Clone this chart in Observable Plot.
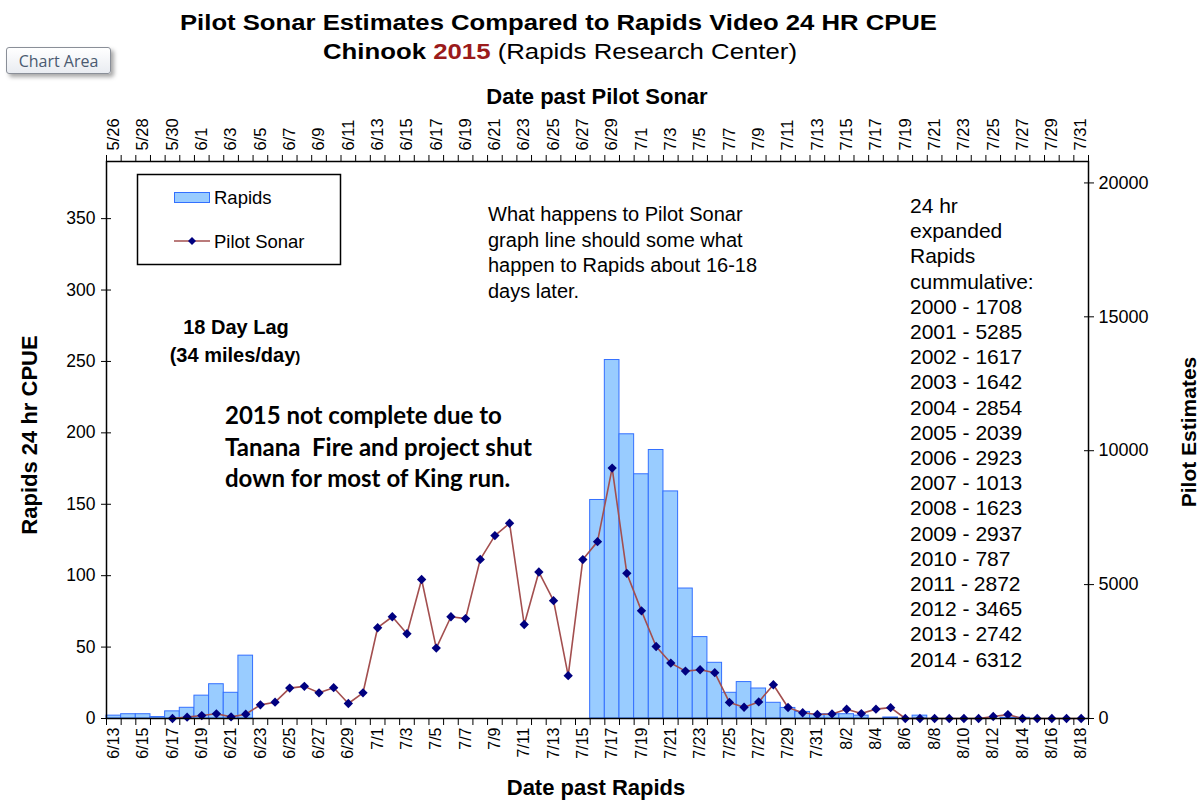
<!DOCTYPE html>
<html>
<head>
<meta charset="utf-8">
<script src="https://cdn.jsdelivr.net/npm/d3@7"></script>
<script src="https://cdn.jsdelivr.net/npm/@observablehq/plot@0.6"></script>
<style>
  html, body { margin: 0; padding: 0; background: #fff; }
  #wrap { position: relative; width: 1201px; height: 800px; overflow: hidden; }
  #chart { position: absolute; left: 0; top: 0; }
  #ov { position: absolute; left: 0; top: 0; pointer-events: none; }
  #btn {
    position: absolute; left: 6px; top: 47px; width: 105px; height: 27px;
    border: 1px solid #8a8f98; border-radius: 3px;
    background: linear-gradient(#ffffff, #e9ecf1);
    box-shadow: 3px 3px 4px rgba(0,0,0,0.35);
    font-family: "Open Sans", "Liberation Sans", sans-serif; font-size: 16px;
    color: #4a5a70; text-align: center; line-height: 26px; box-sizing: border-box;
  }
</style>
</head>
<body>
<div id="wrap">
  <div id="chart"></div>
  <div id="btn">Chart Area</div>
</div>
<script>
// Bottom category axis: date past Rapids
const rapidsDates = ["6/13","6/14","6/15","6/16","6/17","6/18","6/19","6/20","6/21","6/22","6/23","6/24","6/25","6/26","6/27","6/28","6/29","6/30",
  "7/1","7/2","7/3","7/4","7/5","7/6","7/7","7/8","7/9","7/10","7/11","7/12","7/13","7/14","7/15","7/16","7/17","7/18","7/19","7/20","7/21","7/22","7/23","7/24","7/25","7/26","7/27","7/28","7/29","7/30","7/31",
  "8/1","8/2","8/3","8/4","8/5","8/6","8/7","8/8","8/9","8/10","8/11","8/12","8/13","8/14","8/15","8/16","8/17","8/18"];
// Top category axis: date past Pilot Sonar (18 day lag)
const pilotDates = ["5/26","5/27","5/28","5/29","5/30","5/31",
  "6/1","6/2","6/3","6/4","6/5","6/6","6/7","6/8","6/9","6/10","6/11","6/12","6/13","6/14","6/15","6/16","6/17","6/18","6/19","6/20","6/21","6/22","6/23","6/24","6/25","6/26","6/27","6/28","6/29","6/30",
  "7/1","7/2","7/3","7/4","7/5","7/6","7/7","7/8","7/9","7/10","7/11","7/12","7/13","7/14","7/15","7/16","7/17","7/18","7/19","7/20","7/21","7/22","7/23","7/24","7/25","7/26","7/27","7/28","7/29","7/30","7/31"];
// Rapids 24 hr CPUE (bars, left axis)
const rapidsValues = [2,3,3,1,5,7.5,16,24,18,44,
  0,0,0,0,0,0,0,0,0,0,0,0,0,0,0,0,0,0,0,0,0,0,0,
  153,251,199,171,188,159,91,57,39,18,25.5,21,11,7.4,4.6,3,3,3,2,0,0.7,0,2,0,0,0,0,0,0.5,0.5,0,0,0,0];
// Pilot Sonar estimates (line, right axis)
const pilotValues = [null,null,null,null,0,50,110,175,60,160,510,610,1135,1200,960,1150,560,960,
  3390,3800,3165,5190,2630,3800,3730,5940,6830,7290,3510,5470,4400,1600,5935,6605,9350,5420,4020,2690,2070,1770,1820,1710,600,420,620,1260,410,215,150,
  170,345,185,350,405,0,0,0,0,0,0,75,145,0,0,0,0,0];
const leftTicks = [0,50,100,150,200,250,300,350];
const rightTicks = [0,5000,10000,15000,20000];
const notesCumulative = ["24 hr","expanded","Rapids","cummulative:","2000 - 1708","2001 - 5285","2002 - 1617","2003 - 1642","2004 - 2854","2005 - 2039","2006 - 2923","2007 - 1013","2008 - 1623","2009 - 2937","2010 - 787","2011 - 2872","2012 - 3465","2013 - 2742","2014 - 6312"];

const leftMax = 390, rightMax = 20800, k = leftMax / rightMax;
const n = rapidsDates.length;
const rapidsRows = rapidsDates.map((d, i) => ({i, d, v: rapidsValues[i]})).filter(r => r.v > 0);
const pilotRows = pilotDates.map((d, i) => ({i, d, v: pilotValues[i]})).filter(r => r.v != null);
const boundaries = d3.range(0, n + 1);
const labelPos = d3.range(0, n, 2).map(i => i + 0.5);

const font = "Liberation Sans, Arial, sans-serif";
const plot = Plot.plot({
  width: 1201, height: 800,
  marginLeft: 106, marginRight: 113, marginTop: 161, marginBottom: 82,
  style: {fontFamily: font, fontSize: "16px", color: "#000", background: "transparent"},
  x: {type: "linear", domain: [0, n]},
  y: {domain: [0, leftMax]},
  marks: [
    Plot.rect(rapidsRows, {x1: "i", x2: r => r.i + 1, y1: 0, y2: "v", fill: "#99CCFF", stroke: "#3370FF", strokeWidth: 1}),
    Plot.line(pilotRows, {x: r => r.i + 0.5, y: r => r.v * k, stroke: "#A34F4F", strokeWidth: 1.6}),
    Plot.dot(pilotRows, {x: r => r.i + 0.5, y: r => r.v * k, symbol: "diamond2", r: 4.2, fill: "#000080", stroke: "none"}),
    Plot.frame({stroke: "#000", strokeWidth: 1.5}),
    Plot.axisY(leftTicks, {anchor: "left", tickSize: 10, dx: 5, tickPadding: 6, fontSize: 17.5, label: null}),
    Plot.axisY(rightTicks.map(t => t * k), {anchor: "right", tickSize: 10, dx: -5, tickPadding: 5, fontSize: 18, label: null,
      tickFormat: d => String(Math.round(d / k))}),
    Plot.axisX(boundaries, {anchor: "bottom", tickSize: 7, tickFormat: () => "", label: null}),
    Plot.axisX(labelPos, {anchor: "bottom", tickSize: 0, tickRotate: -90, tickPadding: 9, fontSize: 16, label: null,
      tickFormat: d => rapidsDates[Math.round(d - 0.5)]}),
    Plot.axisX(boundaries, {anchor: "top", tickSize: 7, tickFormat: () => "", label: null}),
    Plot.axisX(labelPos, {anchor: "top", tickSize: 0, tickRotate: -90, tickPadding: 11, fontSize: 16.5, label: null,
      tickFormat: d => pilotDates[Math.round(d - 0.5)]})
  ]
});
document.getElementById("chart").appendChild(plot);

// Overlay with titles, legend and notes
const ns = "http://www.w3.org/2000/svg";
const ov = document.createElementNS(ns, "svg");
ov.setAttribute("id", "ov"); ov.setAttribute("width", 1201); ov.setAttribute("height", 800);
ov.setAttribute("font-family", font);
let html = "";
html += `<text x="180" y="30" font-size="22" font-weight="bold" textLength="757" lengthAdjust="spacingAndGlyphs">Pilot Sonar Estimates Compared to Rapids Video 24 HR CPUE</text>`;
html += `<text x="323" y="59" font-size="22" textLength="474" lengthAdjust="spacingAndGlyphs"><tspan font-weight="bold">Chinook </tspan><tspan font-weight="bold" fill="#9B1B1B">2015</tspan><tspan> (Rapids Research Center)</tspan></text>`;
html += `<text x="597" y="104" text-anchor="middle" font-size="22" font-weight="bold">Date past Pilot Sonar</text>`;
html += `<text x="596" y="795" text-anchor="middle" font-size="22" font-weight="bold">Date past Rapids</text>`;
html += `<text transform="translate(37,435) rotate(-90)" text-anchor="middle" font-size="22" font-weight="bold">Rapids 24 hr CPUE</text>`;
html += `<text transform="translate(1196,432) rotate(-90)" text-anchor="middle" font-size="21" font-weight="bold">Pilot Estimates</text>`;
// legend
html += `<rect x="137.5" y="174.5" width="203" height="90" fill="#fff" stroke="#000" stroke-width="1.5"/>`;
html += `<rect x="174.5" y="192.5" width="35" height="10" fill="#99CCFF" stroke="#3370FF"/>`;
html += `<text x="214" y="204" font-size="18.5">Rapids</text>`;
html += `<line x1="174" x2="210" y1="241" y2="241" stroke="#A34F4F" stroke-width="1.6"/>`;
html += `<path d="M192,237 L196,241 L192,245 L188,241 Z" fill="#000080"/>`;
html += `<text x="214" y="248" font-size="18.5">Pilot Sonar</text>`;
// lag note
html += `<text x="236" y="334" text-anchor="middle" font-size="20" font-weight="bold">18 Day Lag</text>`;
html += `<text x="235" y="362" text-anchor="middle" font-size="20" font-weight="bold">(34 miles/day<tspan font-size="15">)</tspan></text>`;
// incomplete note
const inc = ["2015 not complete due to", "Tanana  Fire and project shut", "down for most of King run."];
inc.forEach((t, j) => { html += `<text x="225" y="${424 + j * 31.5}" font-family="Lato, 'Open Sans', sans-serif" font-size="24" font-weight="bold" xml:space="preserve">${t}</text>`; });
// what happens note
const wh = ["What happens to Pilot Sonar", "graph line should some what", "happen to Rapids about 16-18", "days later."];
wh.forEach((t, j) => { html += `<text x="488" y="${221 + j * 25.5}" font-size="20">${t}</text>`; });
// cumulative block
notesCumulative.forEach((t, j) => { html += `<text x="910" y="${213 + j * 25.2}" font-size="21">${t}</text>`; });
ov.innerHTML = html;
document.getElementById("wrap").appendChild(ov);
</script>
</body>
</html>
